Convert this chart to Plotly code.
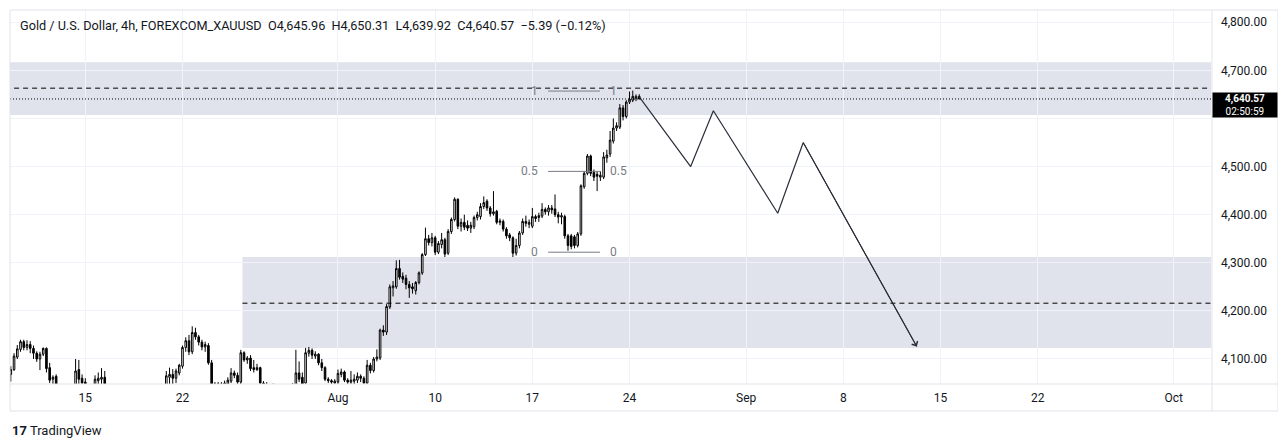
import pandas as pd
import plotly.graph_objects as go

# FOREXCOM:XAUUSD, 4h bars (weekdays), Jul 9 04:00 -> Aug 24 12:00
bar_start = "2026-07-09 04:00"
bar_end = "2026-08-24 12:00"

opens = [
    4068, 4078, 4104, 4120, 4136, 4124, 4130, 4122, 4112, 4100,
    4110, 4122, 4082, 4058, 4064, 4040, 4020, 4008, 4018, 4026,
    4035, 4078, 4060, 4052, 4040, 4030, 4038, 4055, 4058, 4062,
    4040, 4025, 4010, 4015, 3998, 3990, 4002, 3995, 4005, 4018,
    4010, 4020, 4012, 4025, 4030, 4022, 4032, 4038, 4035, 4062,
    4068, 4060, 4071, 4085, 4124, 4138, 4115, 4155, 4146, 4135,
    4125, 4128, 4092, 4048, 4040, 4048, 4046, 4048, 4054, 4071,
    4066, 4052, 4113, 4098, 4102, 4082, 4078, 4082, 4050, 4040,
    4045, 4038, 4044, 4035, 4028, 4036, 4040, 4035, 4046, 4071,
    4062, 4050, 4112, 4118, 4106, 4110, 4092, 4082, 4058, 4055,
    4050, 4052, 4068, 4073, 4056, 4052, 4054, 4056, 4064, 4060,
    4050, 4087, 4076, 4100, 4102, 4160, 4156, 4208, 4248, 4250,
    4288, 4272, 4268, 4255, 4250, 4242, 4259, 4279, 4317, 4350,
    4342, 4352, 4322, 4338, 4348, 4320, 4365, 4390, 4432, 4376,
    4384, 4378, 4372, 4375, 4394, 4396, 4417, 4428, 4414, 4402,
    4407, 4384, 4386, 4370, 4358, 4352, 4320, 4336, 4362, 4386,
    4380, 4376, 4396, 4394, 4397, 4411, 4406, 4414, 4412, 4400,
    4395, 4396, 4356, 4356, 4354, 4336, 4360, 4458, 4486, 4522,
    4488, 4484, 4478, 4478, 4518, 4526, 4553, 4580, 4582, 4622,
    4604, 4634, 4638, 4642, 4645.96,
]
highs = [
    4085, 4112, 4129, 4140, 4140, 4139, 4137, 4128, 4116, 4115,
    4124, 4124, 4092, 4066, 4068, 4045, 4030, 4028, 4038, 4042,
    4100, 4098, 4068, 4060, 4044, 4045, 4066, 4072, 4081, 4075,
    4044, 4030, 4024, 4020, 4005, 4010, 4012, 4015, 4025, 4030,
    4032, 4028, 4035, 4040, 4038, 4040, 4043, 4044, 4075, 4082,
    4079, 4080, 4090, 4128, 4145, 4150, 4168, 4165, 4150, 4140,
    4136, 4133, 4098, 4052, 4052, 4052, 4055, 4062, 4081, 4076,
    4072, 4119, 4116, 4106, 4108, 4098, 4090, 4084, 4054, 4052,
    4046, 4049, 4045, 4040, 4042, 4048, 4045, 4050, 4119, 4095,
    4072, 4123, 4125, 4122, 4116, 4112, 4100, 4085, 4062, 4058,
    4058, 4078, 4080, 4076, 4060, 4075, 4068, 4072, 4068, 4064,
    4098, 4092, 4104, 4120, 4163, 4170, 4214, 4255, 4262, 4305,
    4306, 4280, 4275, 4262, 4258, 4262, 4282, 4320, 4373, 4358,
    4362, 4356, 4345, 4362, 4352, 4370, 4394, 4436, 4434, 4392,
    4400, 4388, 4385, 4398, 4406, 4424, 4438, 4432, 4418, 4449,
    4410, 4392, 4390, 4374, 4362, 4355, 4350, 4366, 4392, 4398,
    4390, 4414, 4400, 4404, 4424, 4415, 4420, 4420, 4442, 4406,
    4404, 4400, 4360, 4360, 4358, 4364, 4463, 4490, 4526, 4525,
    4494, 4490, 4490, 4530, 4535, 4574, 4600, 4592, 4630, 4628,
    4638, 4656, 4658, 4650, 4650.31,
]
lows = [
    4053, 4075, 4100, 4115, 4118, 4118, 4112, 4100, 4094, 4077,
    4106, 4072, 4050, 4048, 4030, 4010, 3998, 3995, 4010, 4020,
    4030, 4040, 4040, 4030, 4020, 4022, 4030, 4045, 4048, 4035,
    4015, 4000, 3998, 3990, 3980, 3984, 3988, 3990, 3998, 4002,
    4004, 4005, 4008, 4015, 4015, 4018, 4025, 4028, 4030, 4046,
    4040, 4050, 4066, 4080, 4115, 4108, 4110, 4140, 4128, 4118,
    4115, 4088, 4040, 4030, 4035, 4040, 4040, 4044, 4050, 4060,
    4046, 4048, 4094, 4090, 4075, 4072, 4075, 4045, 4032, 4030,
    4030, 4032, 4028, 4020, 4022, 4030, 4028, 4030, 4040, 4052,
    4040, 4046, 4105, 4100, 4100, 4087, 4075, 4054, 4050, 4047,
    4046, 4048, 4062, 4052, 4048, 4046, 4048, 4050, 4052, 4045,
    4046, 4070, 4072, 4095, 4098, 4148, 4150, 4204, 4230, 4246,
    4265, 4258, 4245, 4227, 4236, 4234, 4255, 4275, 4314, 4336,
    4334, 4316, 4318, 4330, 4312, 4316, 4360, 4386, 4370, 4365,
    4368, 4366, 4362, 4370, 4388, 4390, 4412, 4408, 4396, 4398,
    4380, 4378, 4365, 4350, 4345, 4312, 4315, 4330, 4358, 4375,
    4372, 4372, 4385, 4385, 4393, 4400, 4398, 4402, 4395, 4382,
    4380, 4350, 4325, 4328, 4330, 4332, 4356, 4454, 4482, 4480,
    4470, 4449, 4470, 4474, 4508, 4520, 4548, 4574, 4578, 4596,
    4600, 4630, 4634, 4636, 4639.92,
]
closes = [
    4078, 4106, 4121, 4136, 4124, 4130, 4122, 4112, 4100, 4110,
    4122, 4080, 4056, 4062, 4040, 4020, 4008, 4018, 4026, 4035,
    4075, 4058, 4050, 4040, 4030, 4038, 4058, 4060, 4062, 4040,
    4025, 4010, 4015, 3998, 3990, 4002, 3995, 4005, 4018, 4010,
    4020, 4012, 4025, 4030, 4022, 4032, 4038, 4035, 4065, 4068,
    4060, 4075, 4087, 4124, 4138, 4115, 4155, 4146, 4135, 4125,
    4130, 4092, 4048, 4040, 4048, 4046, 4050, 4056, 4071, 4066,
    4052, 4113, 4098, 4102, 4080, 4078, 4082, 4050, 4040, 4045,
    4038, 4044, 4035, 4028, 4036, 4040, 4035, 4042, 4071, 4058,
    4048, 4113, 4118, 4108, 4110, 4092, 4082, 4058, 4055, 4052,
    4054, 4070, 4073, 4056, 4052, 4056, 4058, 4064, 4060, 4050,
    4087, 4076, 4100, 4104, 4160, 4156, 4209, 4250, 4252, 4288,
    4270, 4266, 4255, 4248, 4246, 4259, 4279, 4317, 4350, 4342,
    4352, 4322, 4340, 4348, 4318, 4365, 4390, 4432, 4376, 4384,
    4374, 4372, 4378, 4394, 4400, 4417, 4425, 4414, 4402, 4406,
    4384, 4387, 4370, 4356, 4352, 4320, 4336, 4362, 4386, 4382,
    4384, 4396, 4392, 4398, 4411, 4406, 4414, 4410, 4400, 4395,
    4398, 4356, 4336, 4334, 4336, 4360, 4460, 4486, 4522, 4486,
    4478, 4480, 4482, 4520, 4524, 4555, 4580, 4585, 4622, 4604,
    4634, 4640, 4646, 4646, 4640.57,
]

# drawings on the chart
zone_top = [4717, 4607]          # supply zone (full width)
zone_top_mid = 4663
zone_low = [4312, 4123]          # demand zone
zone_low_mid = 4216
zone_low_from = "2026-07-27 02:00"

fib_from = "2026-08-17 19:30"
fib_to = "2026-08-20 11:30"
fib_levels = ["0", "0.5", "1"]
fib_prices = [4322, 4490, 4657]

path_dates = ["2026-08-24 12:00", "2026-08-27 03:30", "2026-08-28 07:30",
              "2026-09-02 15:00", "2026-09-03 22:30", "2026-09-11 18:40"]
path_prices = [4645, 4500, 4616, 4403, 4550, 4126]

tick_dates = ["2026-07-15", "2026-07-22", "2026-08-03", "2026-08-10", "2026-08-17",
              "2026-08-24", "2026-09-01", "2026-09-08", "2026-09-15", "2026-09-22", "2026-10-01"]
tick_text = ["15", "22", "Aug", "10", "17", "24", "Sep", "8", "15", "22", "Oct"]
price_ticks = [4100, 4200, 4300, 4400, 4500, 4600, 4700, 4800]
# 4,600 sits under the last-price label
price_text = ["4,100.00", "4,200.00", "4,300.00", "4,400.00", "4,500.00", "", "4,700.00", "4,800.00"]

x_view = ["2026-07-09 03:00", "2026-10-02 22:00"]
y_view = [4048, 4825.5]

times = pd.date_range(bar_start, bar_end, freq="4h")
times = times[times.dayofweek < 5]
assert len(times) == len(opens) == len(highs) == len(lows) == len(closes)

INK = "#131722"
GRID = "#f0f3fa"
BORDER = "#e0e3eb"
ZONE = "rgba(177,184,204,0.4)"
FIB = "#787b86"

fig = go.Figure()
fig.add_trace(go.Candlestick(
    x=times, open=opens, high=highs, low=lows, close=closes,
    increasing=dict(fillcolor="white", line=dict(color="black", width=1)),
    decreasing=dict(fillcolor="black", line=dict(color="black", width=1)),
    hoverinfo="skip",
))

fig.add_trace(go.Scatter(x=path_dates, y=path_prices, mode="lines",
                         line=dict(color="#2a2e39", width=1.2), hoverinfo="skip"))

# zones
fig.add_shape(type="rect", xref="x", yref="y", x0="2026-07-01", x1="2026-10-30",
              y0=zone_top[1], y1=zone_top[0], fillcolor=ZONE, line_width=0, layer="below")
fig.add_shape(type="rect", xref="x", yref="y", x0=zone_low_from, x1="2026-10-30",
              y0=zone_low[1], y1=zone_low[0], fillcolor=ZONE, line_width=0, layer="below")
fig.add_shape(type="line", xref="x", yref="y", x0="2026-07-01", x1="2026-10-30",
              y0=zone_top_mid, y1=zone_top_mid, line=dict(color="black", width=1, dash="5px,4px"))
fig.add_shape(type="line", xref="x", yref="y", x0=zone_low_from, x1="2026-10-30",
              y0=zone_low_mid, y1=zone_low_mid, line=dict(color="black", width=1, dash="5px,4px"))

# last price line
fig.add_shape(type="line", xref="paper", yref="y", x0=0, x1=1, y0=closes[-1], y1=closes[-1],
              line=dict(color="black", width=1, dash="1px,2px"))

# fib retracement
for lvl, p in zip(fib_levels, fib_prices):
    fig.add_shape(type="line", xref="x", yref="y", x0=fib_from, x1=fib_to, y0=p, y1=p,
                  line=dict(color=FIB, width=1))
    fig.add_annotation(x=fib_from, y=p, text=lvl, showarrow=False, xanchor="right", xshift=-8,
                       font=dict(color=FIB, size=12))
    fig.add_annotation(x=fib_to, y=p, text=lvl, showarrow=False, xanchor="left", xshift=8,
                       font=dict(color=FIB, size=12))

# arrow head on the projected path
fig.add_annotation(x=path_dates[-1], y=path_prices[-1], ax=path_dates[-2], ay=path_prices[-2],
                   xref="x", yref="y", axref="x", ayref="y", text="", showarrow=True,
                   arrowhead=4, arrowsize=1.3, arrowwidth=1, arrowcolor="#2a2e39")

# frame
fig.add_shape(type="rect", xref="paper", yref="paper", x0=0, x1=1.0558, y0=-0.0722, y1=1,
              line=dict(color=BORDER, width=1))
fig.add_shape(type="line", xref="paper", yref="paper", x0=1.0008, x1=1.0008, y0=-0.0722, y1=1,
              line=dict(color=BORDER, width=1))
fig.add_shape(type="line", xref="paper", yref="paper", x0=0, x1=1.0558, y0=0, y1=0,
              line=dict(color=BORDER, width=1))

# legend line
fig.add_annotation(xref="paper", yref="paper", x=0, y=1, xanchor="left", yanchor="middle",
                   xshift=8, yshift=-15, showarrow=False,
                   text="Gold / U.S. Dollar, 4h, FOREXCOM_XAUUSD  O4,645.96  H4,650.31  "
                        "L4,639.92  C4,640.57  \u22125.39 (\u22120.12%)",
                   font=dict(family="Roboto, sans-serif", size=12.7, color=INK))

# last price label
fig.add_annotation(xref="paper", yref="y", x=1, y=closes[-1], xanchor="left", yanchor="top",
                   xshift=1, yshift=7, showarrow=False, width=62, height=22,
                   bgcolor="black", text="<b>4,640.57</b><br>02:50:59",
                   font=dict(color="white", size=10, family="Roboto, sans-serif"))

# watermark
fig.add_annotation(xref="paper", yref="paper", x=0, y=0, xanchor="left", yanchor="middle",
                   xshift=0, yshift=-46, showarrow=False,
                   text="<b>17</b> TradingView",
                   font=dict(size=13, color=INK, family="Roboto, sans-serif"))

# page body adds 8px, so the figure is 8px smaller and shifted margins keep the plot in place
fig.update_layout(
    width=1278, height=439,
    margin=dict(l=2, r=75, t=2, b=63),
    paper_bgcolor="white", plot_bgcolor="white",
    showlegend=False,
    font=dict(family="Roboto, sans-serif", size=12, color=INK),
    xaxis=dict(type="date", range=x_view, rangebreaks=[dict(bounds=["sat", "mon"])],
               tickvals=tick_dates, ticktext=tick_text, showgrid=True, gridcolor=GRID,
               zeroline=False, showline=False, ticks="", rangeslider=dict(visible=False),
               ticklabelstandoff=5, tickfont=dict(size=12, color=INK)),
    yaxis=dict(side="right", range=y_view, tickvals=price_ticks, ticktext=price_text,
               showgrid=True, gridcolor=GRID, zeroline=False, showline=False, ticks="",
               ticklabelstandoff=9, tickfont=dict(size=12, color=INK)),
)

fig.write_html("out.html")
